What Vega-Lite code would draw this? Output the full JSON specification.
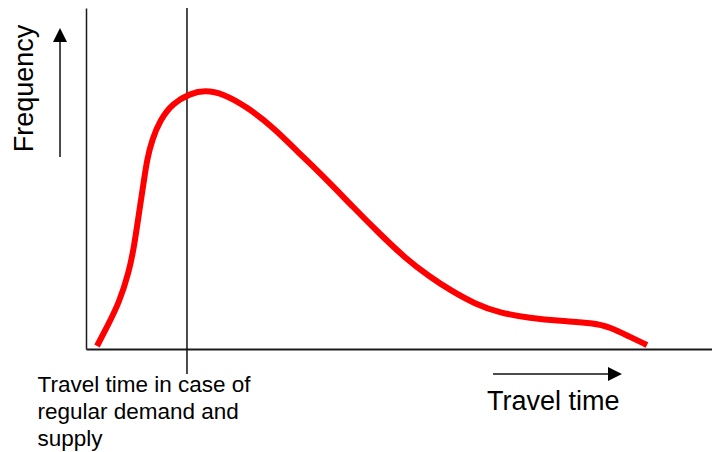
{
  "$schema": "https://vega.github.io/schema/vega-lite/v6.json",
  "width": 626,
  "height": 341,
  "autosize": {"type": "none"},
  "padding": {"left": 86, "top": 8, "right": 0, "bottom": 103},
  "background": "white",
  "config": {"view": {"stroke": null}},
  "encoding": {
    "x": {"field": "x", "type": "quantitative", "scale": {"domain": [0, 100], "nice": false, "zero": false},
      "axis": {"title": null, "labels": false, "ticks": false, "grid": false, "domainColor": "#1a1a1a", "domainWidth": 2}},
    "y": {"field": "y", "type": "quantitative", "scale": {"domain": [0, 100], "nice": false, "zero": false},
      "axis": {"title": null, "labels": false, "ticks": false, "grid": false, "domainColor": "#1a1a1a", "domainWidth": 1.5}}
  },
  "layer": [
    {
      "data": {"values": [
        {"x": 16.13, "y": 100, "x2": 16.13, "y2": -7.33},
        {"x": -4.15, "y": 56.3, "x2": -4.15, "y2": 91},
        {"x": 65.02, "y": -7.33, "x2": 84, "y2": -7.33}
      ]},
      "mark": {"type": "rule", "color": "#111111", "strokeWidth": 1.5},
      "encoding": {"x2": {"field": "x2"}, "y2": {"field": "y2"}}
    },
    {
      "data": {"values": [
        {"x": 1.76, "y": 0.88}, {"x": 3.51, "y": 7.04}, {"x": 5.27, "y": 13.49}, {"x": 6.87, "y": 22.58},
        {"x": 7.67, "y": 29.91}, {"x": 8.47, "y": 39.88}, {"x": 9.27, "y": 49.56}, {"x": 9.74, "y": 55.43},
        {"x": 10.54, "y": 61.29}, {"x": 11.82, "y": 67.16}, {"x": 13.9, "y": 72.14}, {"x": 16.61, "y": 74.9},
        {"x": 19.01, "y": 75.9}, {"x": 21.88, "y": 74.9}, {"x": 25.72, "y": 70.97}, {"x": 29.87, "y": 65.1},
        {"x": 34.19, "y": 57.2}, {"x": 38.5, "y": 49.56}, {"x": 42.65, "y": 41.64}, {"x": 46.96, "y": 33.72},
        {"x": 50.96, "y": 26.69}, {"x": 54.95, "y": 21.11}, {"x": 58.15, "y": 17.3}, {"x": 62.14, "y": 13.2},
        {"x": 66.13, "y": 10.56}, {"x": 70.93, "y": 9.09}, {"x": 75.72, "y": 8.21}, {"x": 80.99, "y": 7.62},
        {"x": 83.71, "y": 6.45}, {"x": 86.9, "y": 3.52}, {"x": 89.62, "y": 1.17}
      ]},
      "mark": {"type": "line", "color": "#ff0000", "strokeWidth": 6, "interpolate": "basis"}
    },
    {
      "data": {"values": [{"x": -4.15, "y": 92.08}]},
      "mark": {"type": "point", "shape": "M0,-1L-1,1L1,1Z", "size": 196, "filled": true, "color": "#000000", "opacity": 1, "strokeWidth": 0}
    },
    {
      "data": {"values": [{"x": 84.5, "y": -7.33}]},
      "mark": {"type": "point", "shape": "M1,0L-1,-1L-1,1Z", "size": 196, "filled": true, "color": "#000000", "opacity": 1, "strokeWidth": 0}
    },
    {
      "data": {"values": [{"x": -8.39, "y": 76.39, "label": "Frequency"}]},
      "mark": {"type": "text", "angle": 270, "align": "center", "baseline": "alphabetic", "font": "Liberation Sans", "fontSize": 27, "color": "#000000"},
      "encoding": {"text": {"field": "label"}}
    },
    {
      "data": {"values": [{"x": 64.06, "y": -17.89, "label": "Travel time"}]},
      "mark": {"type": "text", "align": "left", "baseline": "alphabetic", "font": "Liberation Sans", "fontSize": 27, "color": "#000000"},
      "encoding": {"text": {"field": "label"}}
    },
    {
      "data": {"values": [{"x": -7.75, "y": -12.61, "label": "Travel time in case of|regular demand and|supply"}]},
      "mark": {"type": "text", "align": "left", "baseline": "alphabetic", "font": "Liberation Sans", "fontSize": 22.5, "lineBreak": "|", "lineHeight": 27, "color": "#000000"},
      "encoding": {"text": {"field": "label"}}
    }
  ]
}
